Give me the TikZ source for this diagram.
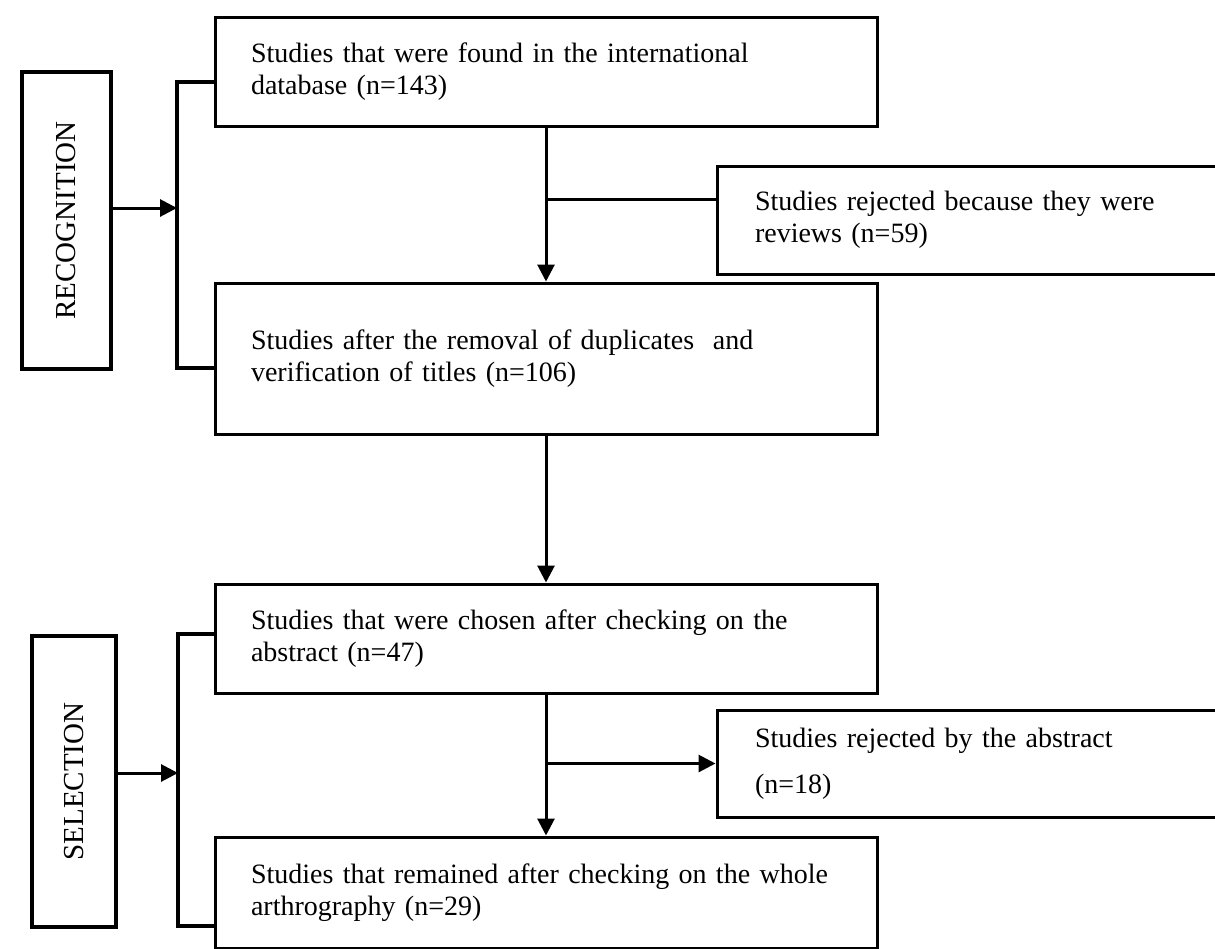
\documentclass[tikz,border=0pt]{standalone}
\usepackage{fontspec}
\setmainfont{Liberation Serif}
\usetikzlibrary{arrows.meta}

\tikzset{
  stagebox/.style={draw, line width=3pt, rectangle, minimum width=662pt,
    text width=590pt, inner xsep=36pt, align=left,
    font=\fontsize{28}{32}\selectfont},
  rejectbox/.style={draw, line width=3pt, rectangle, minimum width=520pt,
    text width=444pt, inner xsep=38pt, align=left,
    font=\fontsize{28}{32}\selectfont},
  phasebox/.style={draw, line width=4.5pt, rectangle, rotate=90,
    font=\fontsize{29}{33}\selectfont},
  flow/.style={line width=3pt, -{Triangle[length=17pt,width=17pt]}},
  branchline/.style={line width=3pt},
  bracket/.style={line width=4.5pt},
}

\begin{document}
\begin{tikzpicture}[x=1pt, y=-1pt]
\useasboundingbox (0,0) rectangle (1215,948);

\node[stagebox, minimum height=109pt] (b1) at (546,71.5)
  {Studies that were found in the international\\ database (n=143)};
\node[stagebox, minimum height=151pt] (b2) at (546,358.5)
  {Studies after the removal of duplicates~ and\\ verification of titles (n=106)};
\node[stagebox, minimum height=109pt] (b3) at (546,638.5)
  {Studies that were chosen after checking on the\\ abstract (n=47)};
\node[stagebox, minimum height=111pt] (b4) at (546,892.5)
  {Studies that remained after checking on the whole\\ arthrography (n=29)};

\node[rejectbox, minimum height=108pt] (r1) at (977,220)
  {Studies rejected because they were\\ reviews (n=59)};
\node[rejectbox, minimum height=107pt] (r2) at (977,763.5)
  {Studies rejected by the abstract\\[14pt] (n=18)};

\node[phasebox, minimum width=297pt, minimum height=89pt] (rec) at (66.5,220.5) {RECOGNITION};
\node[phasebox, minimum width=291pt, minimum height=84pt] (sel) at (74,781.5) {SELECTION};

% brackets on the left
\coordinate (k1) at (177,208);
\coordinate (k1t) at (177,82);
\coordinate (k1b) at (177,368);
\coordinate (k2) at (178,773);
\coordinate (k2t) at (178,634);
\coordinate (k2b) at (178,926);
\draw[bracket] (b1.west |- k1t) -- (k1t) -- (k1b) -- (b2.west |- k1b);
\draw[bracket] (b3.west |- k2t) -- (k2t) -- (k2b) -- (b4.west |- k2b);
\draw[flow] (rec.south |- k1) -- (k1);
\draw[flow] (sel.south |- k2) -- (k2);

% main flow
\foreach \p/\q in {b1/b2, b2/b3, b3/b4}
{\draw[flow] (\p.south) -- (\q.north);}

\coordinate (j1) at (546,199);
\draw[branchline] (j1) -- (r1.west |- j1);
\draw[flow] (b3.south |- r2.west) -- (r2.west);
\end{tikzpicture}
\end{document}
